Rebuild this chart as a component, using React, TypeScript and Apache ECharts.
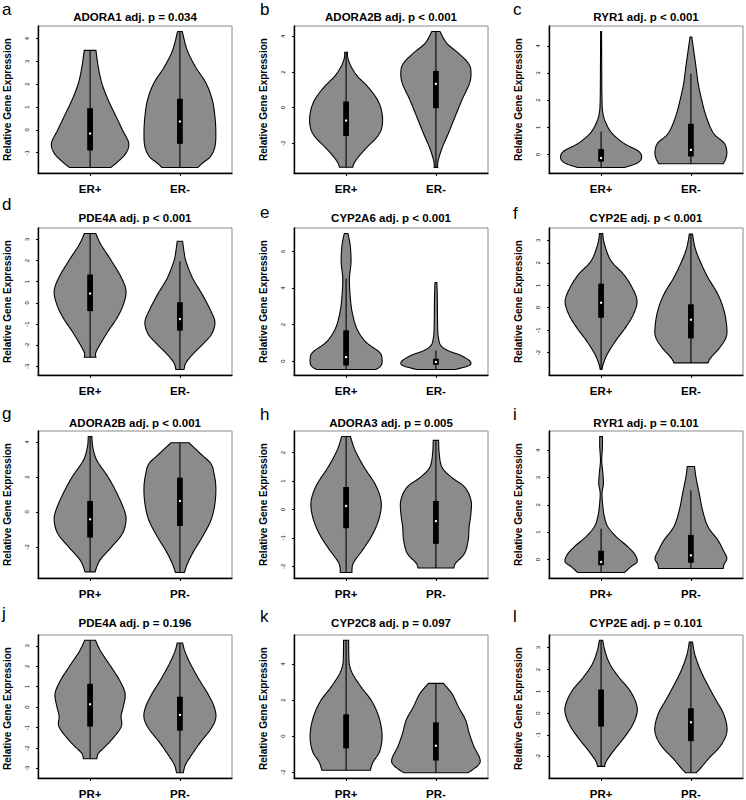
import React, { useEffect, useRef } from "react";
import * as echarts from "echarts";

// ---------- text ----------
const letters = ["a", "b", "c", "d", "e", "f", "g", "h", "i", "j", "k", "l"];
const genes = ["ADORA1", "ADORA2B", "RYR1", "PDE4A", "CYP2A6", "CYP2E", "ADORA2B", "ADORA3", "RYR1", "PDE4A", "CYP2C8", "CYP2E"];
const pTexts = ["adj. p = 0.034", "adj. p < 0.001", "adj. p < 0.001", "adj. p < 0.001", "adj. p < 0.001", "adj. p < 0.001",
  "adj. p < 0.001", "adj. p = 0.005", "adj. p = 0.101", "adj. p = 0.196", "adj. p = 0.097", "adj. p = 0.101"];
const groupsER = ["ER+", "ER-"];
const groupsPR = ["PR+", "PR-"];
const yTitle = "Relative Gene Expression";

// ---------- y tick values ----------
const ticksA = [-1, 0, 1, 2, 3, 4];
const ticksB = [-2, 0, 2, 4];
const ticksC = [0, 1, 2, 3, 4];
const ticksD = [-3, -2, -1, 0, 1, 2, 3];
const ticksE = [0, 2, 4, 6];
const ticksF = [-2, -1, 0, 1, 2, 3];
const ticksG = [-2, 0, 2, 4];
const ticksH = [-2, -1, 0, 1, 2];
const ticksI = [0, 1, 2, 3, 4];
const ticksJ = [-3, -2, -1, 0, 1, 2, 3];
const ticksK = [-2, 0, 2, 4];
const ticksL = [-2, -1, 0, 1, 2, 3];

// ---------- violin outlines: [value, half width (x units)] from top to bottom ----------
const vA1 = [[3.48, 0.065], [2.78, 0.09], [2.05, 0.13], [1.32, 0.2], [0.58, 0.29], [0, 0.36], [-0.58, 0.43], [-1.02, 0.4], [-1.39, 0.31], [-1.65, 0.23]];
const vA2 = [[4.31, 0.026], [3.5, 0.08], [2.78, 0.17], [2.05, 0.29], [1.32, 0.36], [0.58, 0.39], [-0.15, 0.4], [-0.73, 0.39], [-1.17, 0.34], [-1.46, 0.25], [-1.65, 0.2]];
const vB1 = [[3.11, 0.015], [2.78, 0.02], [2.3, 0.056], [1.74, 0.13], [1.18, 0.24], [0.43, 0.35], [-0.32, 0.4], [-1.07, 0.4], [-1.63, 0.35], [-2.2, 0.24], [-2.76, 0.14], [-3.13, 0.09], [-3.36, 0.074]];
const vB2 = [[4.28, 0.045], [3.62, 0.12], [3.06, 0.25], [2.5, 0.36], [2.03, 0.39], [1.37, 0.375], [0.43, 0.29], [-0.5, 0.215], [-1.44, 0.14], [-2.2, 0.075], [-2.76, 0.037], [-3.13, 0.02], [-3.38, 0.02]];
const vC1 = [[4.53, 0.005], [3.24, 0.007], [2.01, 0.01], [1.52, 0.02], [1.15, 0.055], [0.79, 0.12], [0.42, 0.25], [0.11, 0.42], [-0.13, 0.45], [-0.32, 0.4], [-0.48, 0.26]];
const vC2 = [[4.32, 0.01], [3.85, 0.03], [3.24, 0.056], [2.63, 0.08], [2.01, 0.12], [1.4, 0.17], [0.79, 0.25], [0.42, 0.37], [0.11, 0.4], [-0.13, 0.39], [-0.34, 0.36]];
const vD1 = [[3.28, 0.063], [2.76, 0.12], [1.97, 0.24], [1.18, 0.35], [0.55, 0.4], [-0.08, 0.37], [-0.71, 0.3], [-1.34, 0.2], [-1.97, 0.11], [-2.36, 0.063], [-2.57, 0.065]];
const vD2 = [[2.91, 0.03], [2.44, 0.045], [1.97, 0.067], [1.18, 0.14], [0.39, 0.25], [-0.39, 0.345], [-0.94, 0.39], [-1.5, 0.35], [-1.97, 0.25], [-2.44, 0.14], [-2.83, 0.067], [-3.15, 0.045]];
const vE1 = [[7.0, 0.02], [6.37, 0.045], [5.45, 0.055], [4.53, 0.037], [3.61, 0.045], [2.7, 0.067], [1.78, 0.12], [1.05, 0.22], [0.5, 0.37], [0.13, 0.4], [-0.24, 0.39], [-0.46, 0.33]];
const vE2 = [[4.31, 0.01], [3.61, 0.015], [1.78, 0.02], [1.23, 0.03], [0.86, 0.055], [0.59, 0.13], [0.31, 0.28], [0, 0.38], [-0.24, 0.37], [-0.46, 0.21]];
const vF1 = [[3.31, 0.018], [2.84, 0.037], [2.09, 0.11], [1.49, 0.25], [0.9, 0.345], [0.3, 0.4], [-0.3, 0.36], [-0.9, 0.27], [-1.49, 0.16], [-2.09, 0.067], [-2.54, 0.022], [-2.76, 0.01]];
const vF2 = [[3.28, 0.018], [2.69, 0.045], [2.09, 0.1], [1.34, 0.19], [0.6, 0.3], [-0.15, 0.37], [-0.9, 0.4], [-1.34, 0.39], [-1.79, 0.32], [-2.24, 0.22], [-2.46, 0.19]];
const vG1 = [[4.32, 0.02], [3.71, 0.03], [2.95, 0.075], [2.0, 0.2], [1.05, 0.3], [0.1, 0.38], [-0.48, 0.4], [-1.24, 0.36], [-2.0, 0.24], [-2.76, 0.11], [-3.43, 0.055]];
const vG2 = [[3.96, 0.1], [3.33, 0.23], [2.76, 0.345], [2.19, 0.38], [1.43, 0.4], [0.48, 0.39], [-0.48, 0.345], [-1.43, 0.25], [-2.19, 0.16], [-2.95, 0.085], [-3.47, 0.05]];
const vH1 = [[2.57, 0.048], [2.08, 0.1], [1.49, 0.2], [0.91, 0.32], [0.44, 0.38], [0.03, 0.39], [-0.49, 0.35], [-0.96, 0.28], [-1.42, 0.185], [-1.89, 0.08], [-2.22, 0.065]];
const vH2 = [[2.43, 0.03], [1.96, 0.037], [1.49, 0.067], [1.14, 0.17], [0.79, 0.32], [0.33, 0.39], [-0.14, 0.39], [-0.61, 0.37], [-1.07, 0.36], [-1.54, 0.32], [-1.89, 0.22], [-2.06, 0.2]];
const vI1 = [[4.51, 0.015], [4.12, 0.015], [3.63, 0.007], [3.15, 0.02], [2.78, 0.026], [2.41, 0.01], [1.93, 0.02], [1.56, 0.037], [1.2, 0.075], [0.83, 0.17], [0.46, 0.3], [0.16, 0.38], [-0.09, 0.4], [-0.27, 0.33], [-0.48, 0.26]];
const vI2 = [[3.41, 0.04], [3.02, 0.056], [2.41, 0.093], [1.8, 0.13], [1.2, 0.19], [0.71, 0.3], [0.34, 0.36], [0.04, 0.4], [-0.17, 0.37], [-0.33, 0.36]];
const vJ1 = [[3.27, 0.06], [2.72, 0.12], [1.93, 0.24], [1.3, 0.33], [0.66, 0.39], [0.03, 0.37], [-0.44, 0.345], [-0.92, 0.35], [-1.39, 0.28], [-1.86, 0.185], [-2.26, 0.093], [-2.53, 0.075]];
const vJ2 = [[3.14, 0.03], [2.72, 0.056], [2.09, 0.12], [1.3, 0.22], [0.66, 0.31], [0.03, 0.38], [-0.52, 0.4], [-1.07, 0.345], [-1.71, 0.23], [-2.34, 0.13], [-2.81, 0.063], [-3.21, 0.037]];
const vK1 = [[5.33, 0.028], [4.52, 0.03], [3.98, 0.037], [3.44, 0.075], [2.71, 0.17], [1.99, 0.28], [1.27, 0.35], [0.54, 0.39], [-0.18, 0.4], [-0.9, 0.37], [-1.45, 0.3], [-1.9, 0.27]];
const vK2 = [[2.93, 0.083], [2.35, 0.18], [1.63, 0.25], [0.9, 0.33], [0.18, 0.37], [-0.54, 0.42], [-1.27, 0.49], [-1.63, 0.47], [-2.04, 0.36]];
const vL1 = [[3.34, 0.018], [2.82, 0.045], [2.23, 0.1], [1.63, 0.2], [1.04, 0.32], [0.45, 0.39], [0, 0.4], [-0.59, 0.345], [-1.19, 0.245], [-1.78, 0.13], [-2.23, 0.056], [-2.45, 0.04]];
const vL2 = [[3.26, 0.018], [2.67, 0.045], [1.93, 0.11], [1.19, 0.2], [0.59, 0.28], [0, 0.36], [-0.59, 0.4], [-1.04, 0.39], [-1.56, 0.32], [-2.08, 0.2], [-2.52, 0.11], [-2.74, 0.06]];

// ---------- box stats: [lower whisker, q1, median, q3, upper whisker] ----------
const bA1 = [-1.65, -0.9, -0.16, 0.95, 3.48];
const bA2 = [-1.65, -0.61, 0.37, 1.36, 4.31];
const bB1 = [-3.36, -1.6, -0.73, 0.34, 3.11];
const bB2 = [-3.38, -0.04, 1.33, 2.06, 4.28];
const bC1 = [-0.48, -0.26, -0.13, 0.2, 0.85];
const bC2 = [-0.34, -0.07, 0.17, 1.13, 2.97];
const bD1 = [-2.57, -0.39, 0.44, 1.34, 3.28];
const bD2 = [-3.15, -1.31, -0.76, 0.03, 1.97];
const bE1 = [-0.46, -0.24, 0.22, 1.69, 4.53];
const bE2 = [-0.46, -0.2, -0.05, 0.13, 0.59];
const bF1 = [-2.76, -0.45, 0.22, 1.07, 3.31];
const bF2 = [-2.46, -1.37, -0.54, 0.15, 3.28];
const bG1 = [-3.43, -1.47, -0.42, 0.63, 4.32];
const bG2 = [-3.47, -0.8, 0.63, 1.96, 3.96];
const bH1 = [-2.22, -0.66, 0.12, 0.79, 2.57];
const bH2 = [-2.06, -1.21, -0.41, 0.3, 2.43];
const bI1 = [-0.48, -0.21, -0.09, 0.32, 1.13];
const bI2 = [-0.33, -0.12, 0.15, 0.9, 2.54];
const bJ1 = [-2.53, -0.95, 0.14, 1.14, 3.27];
const bJ2 = [-3.21, -1.15, -0.38, 0.51, 3.14];
const bK1 = [-1.9, -0.69, 0.27, 1.21, 5.33];
const bK2 = [-2.04, -1.36, -0.54, 0.76, 2.93];
const bL1 = [-2.45, -0.62, 0.22, 1.08, 3.34];
const bL2 = [-2.74, -1.29, -0.42, 0.22, 3.26];

// ---------- assembly ----------
const panelTicks = [ticksA, ticksB, ticksC, ticksD, ticksE, ticksF, ticksG, ticksH, ticksI, ticksJ, ticksK, ticksL];
const panelViolins = [
  [[vA1, bA1], [vA2, bA2]], [[vB1, bB1], [vB2, bB2]], [[vC1, bC1], [vC2, bC2]],
  [[vD1, bD1], [vD2, bD2]], [[vE1, bE1], [vE2, bE2]], [[vF1, bF1], [vF2, bF2]],
  [[vG1, bG1], [vG2, bG2]], [[vH1, bH1], [vH2, bH2]], [[vI1, bI1], [vI2, bI2]],
  [[vJ1, bJ1], [vJ2, bJ2]], [[vK1, bK1], [vK2, bK2]], [[vL1, bL1], [vL2, bL2]],
];

// ---------- layout ----------
const colLeft = [38, 294, 549];
const rowTop = [26, 228, 431, 635];
const gridW = 194;
const gridH = 147;
const titleY = [17, 217.5, 423, 623];
const letterX = [2, 260, 513];
const letterY = [9.5, 9.5, 9.5, 204, 212, 213, 413, 414, 414, 613, 616, 616];
const FONT = '"Liberation Sans", Arial, Helvetica, sans-serif';
const BOXW = 0.032;

function catmull(pts: number[][], seg = 8): number[][] {
  const out: number[][] = [];
  const n = pts.length;
  for (let i = 0; i < n - 1; i++) {
    const p0 = pts[Math.max(0, i - 1)], p1 = pts[i], p2 = pts[i + 1], p3 = pts[Math.min(n - 1, i + 2)];
    for (let s = 0; s < seg; s++) {
      const t = s / seg, t2 = t * t, t3 = t2 * t;
      const f = (k: number) => 0.5 * (2 * p1[k] + (-p0[k] + p2[k]) * t + (2 * p0[k] - 5 * p1[k] + 4 * p2[k] - p3[k]) * t2 + (-p0[k] + 3 * p1[k] - 3 * p2[k] + p3[k]) * t3);
      out.push([f(0), f(1)]);
    }
  }
  out.push(pts[n - 1]);
  return out;
}

function makeRender(pi: number) {
  return (params: any, api: any) => {
    const [prof, box] = panelViolins[pi][params.dataIndex] as [number[][], number[]];
    const cx = api.value(0);
    const right = catmull(prof.map(([y, w]) => api.coord([cx + w, y])));
    const left = catmull(prof.map(([y, w]) => api.coord([cx - w, y]))).reverse();
    const [lo, q1, med, q3, hi] = box;
    const a = api.coord([cx, lo]);
    const b = api.coord([cx, hi]);
    const r0 = api.coord([cx - BOXW, q3]);
    const r1 = api.coord([cx + BOXW, q1]);
    const m = api.coord([cx, med]);
    return {
      type: "group",
      children: [
        { type: "polygon", shape: { points: right.concat(left) }, style: { fill: "#8b8b8b", stroke: "#000", lineWidth: 1.1 } },
        { type: "line", shape: { x1: a[0], y1: a[1], x2: b[0], y2: b[1] }, style: { stroke: "#000", lineWidth: 1.1 } },
        { type: "rect", shape: { x: r0[0], y: r0[1], width: r1[0] - r0[0], height: r1[1] - r0[1] }, style: { fill: "#000" } },
        { type: "circle", shape: { cx: m[0], cy: m[1], r: 1.2 }, style: { fill: "#fff" } },
      ],
    };
  };
}

function buildOption() {
  const grid: any[] = [], xAxis: any[] = [], yAxis: any[] = [], series: any[] = [], graphic: any[] = [];
  for (let i = 0; i < 12; i++) {
    const row = Math.floor(i / 3), col = i % 3;
    const left = colLeft[col], top = rowTop[row];
    const groups = row < 2 ? groupsER : groupsPR;
    const vs = panelViolins[i];
    let lo = Infinity, hi = -Infinity;
    vs.forEach(([p]) => { lo = Math.min(lo, p[p.length - 1][0]); hi = Math.max(hi, p[0][0]); });
    const ext = (hi - lo) * 0.04;
    grid.push({ left, top, width: gridW, height: gridH, show: true, borderColor: "#8a8a8a", borderWidth: 1, backgroundColor: "transparent" });
    xAxis.push({
      gridIndex: i, type: "value", min: 0.42, max: 2.58,
      axisLine: { show: true, onZero: false, lineStyle: { color: "#000", width: 1.4 } },
      splitLine: { show: false },
      axisTick: { show: true, customValues: [1, 2], length: 3, lineStyle: { color: "#000" } },
      axisLabel: { customValues: [1, 2], formatter: (v: number) => groups[Math.round(v) - 1], fontSize: 11.5, fontWeight: "bold", color: "#000", margin: 10, fontFamily: FONT },
    });
    yAxis.push({
      gridIndex: i, type: "value", min: lo - ext, max: hi + ext,
      axisLine: { show: true, onZero: false, lineStyle: { color: "#000", width: 1.4 } },
      splitLine: { show: false },
      axisTick: { show: true, customValues: panelTicks[i], length: 2, lineStyle: { color: "#000" } },
      axisLabel: { customValues: panelTicks[i], rotate: 90, fontSize: 6, color: "#000", margin: 8, fontFamily: FONT },
    });
    series.push({
      type: "custom", xAxisIndex: i, yAxisIndex: i,
      data: vs.map(([, bx], k) => [k + 1, bx[2]]),
      renderItem: makeRender(i),
    });
    graphic.push({
      type: "text", x: left + gridW / 2, y: titleY[row],
      style: { text: genes[i] + " " + pTexts[i], fontSize: 11.5, fontWeight: "bold", fontFamily: FONT, fill: "#000", align: "center", verticalAlign: "middle" },
    });
    graphic.push({
      type: "text", x: letterX[col], y: letterY[i],
      style: { text: letters[i], fontSize: 17, fontFamily: FONT, fill: "#000", align: "left", verticalAlign: "middle" },
    });
    graphic.push({
      type: "text", x: left - 31, y: top + gridH / 2, rotation: Math.PI / 2,
      style: { text: yTitle, fontSize: 10, fontWeight: "bold", fontFamily: FONT, fill: "#000", align: "center", verticalAlign: "middle" },
    });
  }
  return {
    animation: false,
    backgroundColor: "#fff",
    textStyle: { fontFamily: FONT },
    grid, xAxis, yAxis, series, graphic,
  };
}

export default function App() {
  const ref = useRef<HTMLDivElement>(null);
  useEffect(() => {
    document.body.style.margin = "0";
    const chart = echarts.init(ref.current!, undefined, { renderer: "svg" });
    chart.setOption(buildOption() as any);
    return () => chart.dispose();
  }, []);
  return <div ref={ref} style={{ width: 746, height: 800 }} />;
}
